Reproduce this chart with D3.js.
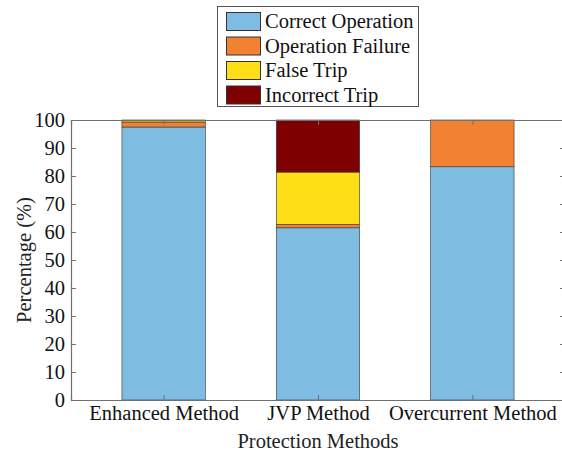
<!DOCTYPE html>
<html><head><meta charset="utf-8">
<script src="https://cdn.jsdelivr.net/npm/d3@7"></script>
<style>body{margin:0;background:#fff}svg{display:block}</style>
</head><body>
<svg id="c" width="562" height="453"></svg>
<script>
const categories = ["Enhanced Method", "JVP Method", "Overcurrent Method"];
const seriesNames = ["Correct Operation", "Operation Failure", "False Trip", "Incorrect Trip"];
const correctOperation = [97.5, 61.5, 83.3];
const operationFailure = [1.8, 1.2, 16.7];
const falseTrip = [0.7, 18.7, 0];
const incorrectTrip = [0, 18.6, 0];
const yTicks = [0, 10, 20, 30, 40, 50, 60, 70, 80, 90, 100];
const colors = ["#7EBDE1", "#F28232", "#FDDE17", "#7E0000"];

const svg = d3.select("#c");
const font = "'Liberation Serif','Times New Roman',serif";
const fs = 20.5;
const L = 71, R = 565, T = 120, B = 400;
const x = d3.scaleLinear().domain([0.4, 3.6]).range([L, R]);
const y = d3.scaleLinear().domain([0, 100]).range([B, T]);
const barW = 0.54;

const rows = categories.map((c, i) => ({cat: c, idx: i + 1,
  "Correct Operation": correctOperation[i], "Operation Failure": operationFailure[i],
  "False Trip": falseTrip[i], "Incorrect Trip": incorrectTrip[i]}));
const stacked = d3.stack().keys(seriesNames)(rows);

stacked.forEach((s, si) => {
  svg.append("g").selectAll("rect").data(s).enter().append("rect")
    .attr("x", d => x(d.data.idx - barW / 2))
    .attr("width", x(barW) - x(0))
    .attr("y", d => y(d[1]))
    .attr("height", d => Math.max(0, y(d[0]) - y(d[1])))
    .attr("fill", colors[si])
    .attr("stroke", d => (d[1] - d[0]) > 0 ? "#333" : "none")
    .attr("stroke-width", 0.6);
});

// axes
const axCol = "#707070";
const gl = svg.append("g").attr("transform", `translate(${L},0)`)
  .call(d3.axisLeft(y).tickValues(yTicks).tickSize(-5).tickPadding(6));
const gr = svg.append("g").attr("transform", `translate(${R},0)`)
  .call(d3.axisRight(y).tickValues(yTicks).tickSize(-5).tickFormat(""));
const gb = svg.append("g").attr("transform", `translate(0,${B})`)
  .call(d3.axisBottom(x).tickValues([1, 2, 3]).tickSize(-5).tickPadding(5)
    .tickFormat((d, i) => categories[i]));
const gt = svg.append("g").attr("transform", `translate(0,${T})`)
  .call(d3.axisTop(x).tickValues([1, 2, 3]).tickSize(-5).tickFormat(""));
[gl, gr, gb, gt].forEach(g => {
  g.selectAll("path.domain").attr("stroke", axCol).attr("stroke-width", 1.2);
  g.selectAll(".tick line").attr("stroke", axCol);
  g.selectAll("text").attr("font-family", font).attr("font-size", fs).attr("fill", "#111");
});
gb.selectAll("text").attr("dy", "0.71em");

svg.append("text").attr("x", 318).attr("y", 448).attr("text-anchor", "middle")
  .attr("font-family", font).attr("font-size", fs).attr("fill", "#222").text("Protection Methods");
svg.append("text").attr("transform", `translate(31,${(T + B) / 2}) rotate(-90)`)
  .attr("text-anchor", "middle").attr("font-family", font).attr("font-size", fs)
  .attr("fill", "#222").text("Percentage (%)");

// legend
const lg = svg.append("g");
lg.append("rect").attr("x", 217.5).attr("y", 6.5).attr("width", 201).attr("height", 100)
  .attr("fill", "#fff").attr("stroke", "#555").attr("stroke-width", 1);
seriesNames.forEach((n, i) => {
  const cy = 21.5 + i * 24.5;
  lg.append("rect").attr("x", 226.5).attr("y", cy - 9).attr("width", 34).attr("height", 18)
    .attr("fill", colors[i]).attr("stroke", "#333").attr("stroke-width", 1);
  lg.append("text").attr("x", 265).attr("y", cy + 6.5).attr("font-family", font)
    .attr("font-size", fs).attr("fill", "#111").text(n);
});
</script>
</body></html>
